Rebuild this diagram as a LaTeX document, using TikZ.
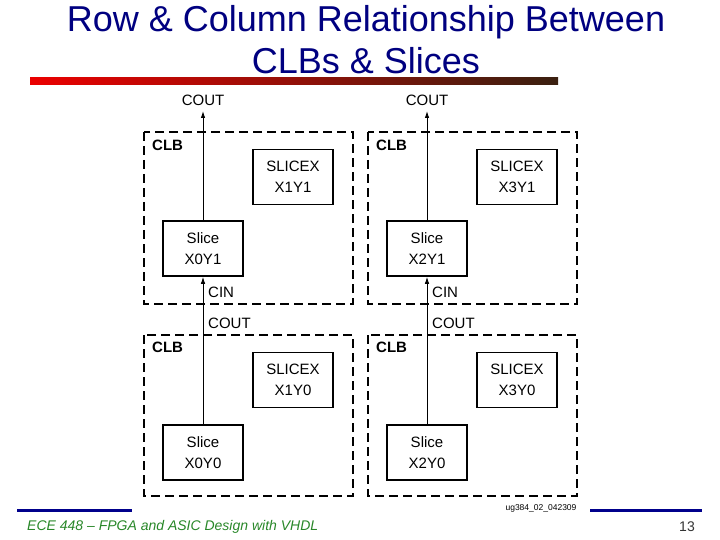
\documentclass[tikz,border=0pt]{standalone}
\usepackage{fontspec}
\setmainfont{Liberation Sans}
\usetikzlibrary{arrows.meta}
\definecolor{titleblue}{RGB}{0,0,128}
\definecolor{barblue}{RGB}{0,0,140}
\definecolor{footgreen}{RGB}{40,135,40}
\definecolor{barred}{RGB}{235,0,0}
\definecolor{barbrown}{RGB}{58,32,16}
\begin{document}
\begin{tikzpicture}[x=1pt,y=-1pt,
  clbbox/.style={draw, line width=1.7pt, dash pattern=on 9pt off 5pt},
  slicebox/.style={draw, line width=1.6pt, minimum width=80pt, minimum height=55pt, inner sep=0pt, align=center, font=\fontsize{15}{21}\selectfont},
  lbl/.style={font=\fontsize{15}{18}\selectfont, inner sep=0pt},
  clblbl/.style={font=\fontsize{15}{18}\selectfont\bfseries, inner sep=0pt, anchor=west},
  conn/.style={line width=0.9pt, -{Latex[length=7pt,width=4.5pt]}},
  titletext/.style={font=\fontsize{36}{40}\selectfont, text=titleblue, inner sep=0pt, anchor=base},
  foot/.style={font=\fontsize{14}{16}\selectfont, inner sep=0pt}]
\useasboundingbox (0,0) rectangle (720,540);
% title
\node[titletext] (t1) at (366,32) {Row \& Column Relationship Between};
\node[titletext] (t2) at (366,74) {CLBs \& Slices};
\shade[left color=barred, right color=barbrown] (30,78) rectangle (558,84.5);
% CLB dashed boxes
\draw[clbbox] (144,132) rectangle (353,304);
\draw[clbbox] (368,132) rectangle (577,304);
\draw[clbbox] (144,335) rectangle (353,496);
\draw[clbbox] (368,335) rectangle (577,496);
\node[clblbl] (c1) at (152,145) {CLB};
\node[clblbl] (c2) at (376,145) {CLB};
\node[clblbl] (c3) at (152,347) {CLB};
\node[clblbl] (c4) at (376,347) {CLB};
% slices
\node[slicebox] (s01) at (203,248.5) {Slice\\X0Y1};
\node[slicebox] (sx11) at (293,177) {SLICEX\\X1Y1};
\node[slicebox] (s21) at (427,248.5) {Slice\\X2Y1};
\node[slicebox] (sx31) at (517,177) {SLICEX\\X3Y1};
\node[slicebox] (s00) at (203,452.5) {Slice\\X0Y0};
\node[slicebox] (sx10) at (293,380) {SLICEX\\X1Y0};
\node[slicebox] (s20) at (427,452.5) {Slice\\X2Y0};
\node[slicebox] (sx30) at (517,380) {SLICEX\\X3Y0};
% carry chain
\coordinate (co1) at (203,111);
\coordinate (co2) at (427,111);
\draw[conn] (s01.north) -- (co1);
\draw[conn] (s21.north) -- (co2);
\draw[conn] (s00.north) -- (s01.south);
\draw[conn] (s20.north) -- (s21.south);
\node[lbl] (lc1) at (203,100) {COUT};
\node[lbl] (lc2) at (427,100) {COUT};
\node[lbl, anchor=west] (ci1) at (208,292) {CIN};
\node[lbl, anchor=west] (ci2) at (432,292) {CIN};
\node[lbl, anchor=west] (lm1) at (208,323.5) {COUT};
\node[lbl, anchor=west] (lm2) at (432,323.5) {COUT};
\node[font=\fontsize{8.5}{10}\selectfont, inner sep=0pt] (ug) at (541,508) {ug384\_02\_042309};
% footer
\fill[barblue] (17,508.5) rectangle (132,511.5);
\fill[barblue] (590,508.5) rectangle (702,511.5);
\node[foot, text=footgreen, anchor=west] (ft) at (27,527) {\itshape ECE 448 – FPGA and ASIC Design with VHDL};
\node[foot, text=black!80, anchor=east] (pg) at (695,527) {13};
\end{tikzpicture}
\end{document}
